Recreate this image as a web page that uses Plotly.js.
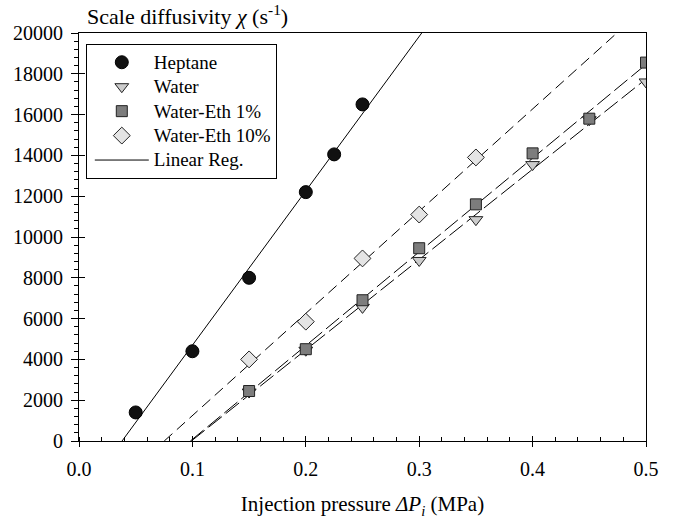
<!DOCTYPE html>
<html>
<head>
<meta charset="utf-8">
<script src="https://cdn.plot.ly/plotly-3.0.1.min.js"></script>
<style>html,body{margin:0;padding:0;background:#fff;}#chart{width:676px;height:523px;}</style>
</head>
<body>
<div id="chart"></div>
<script>
// ---- data ----
const heptaneX = [0.05, 0.10, 0.15, 0.20, 0.225, 0.25];
const heptaneY = [1400, 4400, 8000, 12200, 14050, 16500];

const waterX = [0.15, 0.20, 0.25, 0.30, 0.35, 0.40, 0.45, 0.50];
const waterY = [2400, 4450, 6550, 8850, 10850, 13550, 15750, 17600];

const eth1X = [0.15, 0.20, 0.25, 0.30, 0.35, 0.40, 0.45, 0.50];
const eth1Y = [2450, 4500, 6900, 9450, 11600, 14100, 15800, 18550];

const eth10X = [0.15, 0.20, 0.25, 0.30, 0.35];
const eth10Y = [4000, 5850, 8950, 11100, 13900];

const seriesNames = ["Heptane", "Water", "Water-Eth 1%", "Water-Eth 10%"];
const regName = "Linear Reg.";

const xRange = [0, 0.5];
const yRange = [0, 20000];

// ---- linear regression, drawn from y=0 to the right edge ----
function linReg(xs, ys) {
  const n = xs.length;
  const mx = xs.reduce((a, b) => a + b, 0) / n;
  const my = ys.reduce((a, b) => a + b, 0) / n;
  let sxy = 0, sxx = 0;
  for (let i = 0; i < n; i++) { sxy += (xs[i] - mx) * (ys[i] - my); sxx += (xs[i] - mx) ** 2; }
  const m = sxy / sxx, b = my - m * mx;
  const x0 = -b / m, x1 = xRange[1];
  return { x: [x0, x1], y: [m * x0 + b, m * x1 + b] };
}

const font = "Liberation Serif, Times New Roman, serif";
const edge = "#222";
// legend labels are drawn a little larger than the legend row spacing font
const lbl = s => '<span style="font-size:19px">' + s + '</span>';

function regTrace(xs, ys, dash, show) {
  const r = linReg(xs, ys);
  return {
    x: r.x, y: r.y, mode: "lines", type: "scatter",
    line: { color: "#000", width: 1, dash: dash },
    name: lbl(regName), showlegend: show, legendrank: 5, legendgroup: "reg",
    hoverinfo: "skip"
  };
}

const traces = [
  regTrace(heptaneX, heptaneY, "solid", true),
  regTrace(eth10X, eth10Y, "11px,6px", false),
  regTrace(waterX, waterY, "17px,5px", false),
  regTrace(eth1X, eth1Y, "17px,5px", false),
  { x: heptaneX, y: heptaneY, mode: "markers", type: "scatter", name: lbl(seriesNames[0]),
    legendrank: 1, legendgroup: "g1",
    marker: { symbol: "circle", size: 13, color: "#111", line: { color: "#000", width: 1 } } },
  { x: waterX, y: waterY, mode: "markers", type: "scatter", name: lbl(seriesNames[1]),
    legendrank: 2, legendgroup: "g2",
    marker: { symbol: "triangle-down", size: 12, color: "#cccccc", line: { color: edge, width: 1 } } },
  { x: eth1X, y: eth1Y, mode: "markers", type: "scatter", name: lbl(seriesNames[2]),
    legendrank: 3, legendgroup: "g3",
    marker: { symbol: "square", size: 11, color: "#7d7d7d", line: { color: edge, width: 1 } } },
  { x: eth10X, y: eth10Y, mode: "markers", type: "scatter", name: lbl(seriesNames[3]),
    legendrank: 4, legendgroup: "g4",
    marker: { symbol: "diamond", size: 13, color: "#e4e4e4", line: { color: edge, width: 1 } } },
  // empty trace to host the overlay axes carrying the inner half of major ticks
  { x: [], y: [], xaxis: "x2", yaxis: "y2", type: "scatter", mode: "markers", showlegend: false, hoverinfo: "skip" }
];

const layout = {
  width: 676, height: 523,
  margin: { l: 79, r: 30, t: 33, b: 82 },
  paper_bgcolor: "#fff", plot_bgcolor: "#fff",
  font: { family: font, size: 20, color: "#000" },
  showlegend: true,
  legend: {
    x: 0.012, y: 0.973, xanchor: "left", yanchor: "top",
    bordercolor: "#000", borderwidth: 1, bgcolor: "#fff",
    font: { family: font, size: 16.5, color: "#000" },
    traceorder: "grouped", tracegroupgap: 0, itemwidth: 54, indentation: 3
  },
  xaxis: {
    range: xRange, dtick: 0.1, tick0: 0, tickformat: ".1f",
    showgrid: false, zeroline: false,
    showline: true, linecolor: "#000", linewidth: 1, mirror: true,
    ticks: "outside", ticklen: 5, tickwidth: 1, tickcolor: "#000",
    minor: { ticks: "inside", ticklen: 4, dtick: 0.02, tickcolor: "#000", showgrid: false },
    ticklabelstandoff: 5,
    title: { text: "Injection pressure <i>ΔP<sub>i</sub></i> (MPa)", font: { family: font, size: 21 }, standoff: 17 }
  },
  yaxis: {
    range: yRange, dtick: 2000, tick0: 0, tickformat: "d",
    showgrid: false, zeroline: false,
    showline: true, linecolor: "#000", linewidth: 1, mirror: true,
    ticks: "outside", ticklen: 7, tickwidth: 1, tickcolor: "#000",
    minor: { ticks: "outside", ticklen: 4, dtick: 400, tickcolor: "#000", showgrid: false },
    ticklabelstandoff: 4
  },
  xaxis2: {
    overlaying: "x", anchor: "y2", range: xRange, dtick: 0.1, tick0: 0,
    showgrid: false, zeroline: false, showline: false, showticklabels: false,
    ticks: "inside", ticklen: 5, tickcolor: "#000"
  },
  yaxis2: {
    overlaying: "y", anchor: "x2", range: yRange, dtick: 2000, tick0: 0,
    showgrid: false, zeroline: false, showline: false, showticklabels: false,
    ticks: "inside", ticklen: 6, tickcolor: "#000"
  },
  annotations: [{
    text: "Scale diffusivity <i>χ</i> (s<sup>-1</sup>)",
    xref: "paper", yref: "paper", x: 0.011, y: 1.043,
    xanchor: "left", yanchor: "middle", showarrow: false,
    font: { family: font, size: 22, color: "#000" }
  }]
};

Plotly.newPlot("chart", traces, layout, { staticPlot: true, displayModeBar: false });
</script>
</body>
</html>
